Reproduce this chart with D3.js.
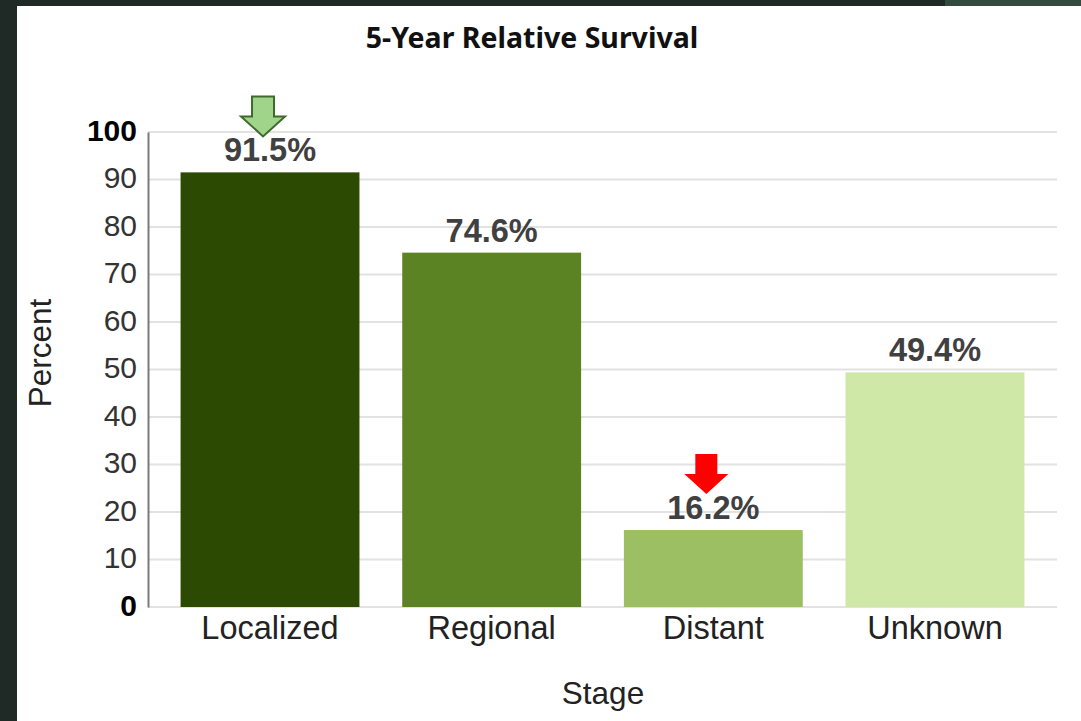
<!DOCTYPE html>
<html>
<head>
<meta charset="utf-8">
<script src="https://cdn.jsdelivr.net/npm/d3@7"></script>
<style>
  html, body { margin: 0; padding: 0; background: #ffffff; }
  svg { display: block; }
</style>
</head>
<body>
<svg id="chart" width="1081" height="721"></svg>
<script>
// ---- data ----
const stages = ["Localized", "Regional", "Distant", "Unknown"];
const survival = [91.5, 74.6, 16.2, 49.4];
const barColors = ["#2d4a03", "#5c8323", "#9cbf64", "#cfe8a8"];
const yTicks = [0, 10, 20, 30, 40, 50, 60, 70, 80, 90, 100];
const arrowStages = ["Localized", "Distant"];
const arrowFills = ["#a0d48a", "#ff0000"];
const arrowStrokes = ["#3e6b2c", "none"];
const titleText = "5-Year Relative Survival";
const xTitle = "Stage";
const yTitle = "Percent";

const W = 1081, H = 721;
const svg = d3.select("#chart");

// frame (dark screenshot border)
svg.append("rect").attr("x", 0).attr("y", 0).attr("width", W).attr("height", H).attr("fill", "#1f2a27");
svg.append("rect").attr("x", 945).attr("y", 0).attr("width", W - 945).attr("height", 6).attr("fill", "#334a41");
svg.append("rect").attr("x", 17).attr("y", 6).attr("width", W - 17).attr("height", H - 6).attr("fill", "#ffffff");

const plot = { left: 148, right: 1057, top: 132, bottom: 607 };

const x = d3.scaleBand().domain(stages).range([plot.left, plot.right])
  .paddingInner(0.193).paddingOuter(0.147);
const y = d3.scaleLinear().domain([0, 100]).range([plot.bottom, plot.top]);

// gridlines
svg.append("g").selectAll("line").data(yTicks).join("line")
  .attr("x1", plot.left).attr("x2", plot.right)
  .attr("y1", d => y(d)).attr("y2", d => y(d))
  .attr("stroke", "#e2e2e2").attr("stroke-width", 2);

// y axis
const yAxis = svg.append("g").attr("transform", `translate(${plot.left},0)`)
  .call(d3.axisLeft(y).tickValues(yTicks).tickSize(0).tickPadding(11));
yAxis.select(".domain").attr("stroke", "#7a7a7a").attr("stroke-width", 2);
yAxis.selectAll("text")
  .attr("font-family", "Liberation Sans, Arial, sans-serif")
  .attr("font-size", 30)
  .attr("fill", d => (d === 0 || d === 100) ? "#000000" : "#333333")
  .attr("font-weight", d => (d === 0 || d === 100) ? "bold" : "normal")
  .attr("dy", "0.28em");

// bars
svg.append("g").selectAll("rect").data(stages).join("rect")
  .attr("x", d => x(d))
  .attr("width", x.bandwidth())
  .attr("y", (d, i) => y(survival[i]))
  .attr("height", (d, i) => y(0) - y(survival[i]))
  .attr("fill", (d, i) => barColors[i]);

// value labels
svg.append("g").selectAll("text").data(stages).join("text")
  .attr("x", d => x(d) + x.bandwidth() / 2)
  .attr("y", (d, i) => y(survival[i]) - 11)
  .attr("text-anchor", "middle")
  .attr("font-family", "Liberation Sans, Arial, sans-serif")
  .attr("font-weight", "bold")
  .attr("font-size", 32.5)
  .attr("fill", "#404040")
  .text((d, i) => survival[i].toFixed(1) + "%");

// x axis labels
const xAxis = svg.append("g").attr("transform", `translate(0,${plot.bottom})`)
  .call(d3.axisBottom(x).tickSize(0).tickPadding(9));
xAxis.select(".domain").remove();
xAxis.selectAll("text")
  .attr("font-family", "Liberation Sans, Arial, sans-serif")
  .attr("font-size", 32.5)
  .attr("fill", "#222222")
  .attr("dy", "0.71em");

// axis titles
svg.append("text")
  .attr("x", 603).attr("y", 704)
  .attr("text-anchor", "middle")
  .attr("font-family", "Liberation Sans, Arial, sans-serif")
  .attr("font-size", 31.5)
  .attr("fill", "#222222")
  .text(xTitle);

svg.append("text")
  .attr("transform", "translate(51,353) rotate(-90)")
  .attr("text-anchor", "middle")
  .attr("font-family", "Liberation Sans, Arial, sans-serif")
  .attr("font-size", 31.5)
  .attr("fill", "#222222")
  .text(yTitle);

// title
svg.append("text")
  .attr("x", 532).attr("y", 48)
  .attr("text-anchor", "middle")
  .attr("font-family", "Noto Sans, Open Sans, sans-serif")
  .attr("font-weight", "bold")
  .attr("font-size", 28.5)
  .attr("fill", "#111111")
  .text(titleText);

// arrows
function arrowPath(cx, tip) {
  const sw = 11, hw = 22, shaftTop = tip - 40, headTop = tip - 20;
  return `M${cx - sw},${shaftTop} L${cx + sw},${shaftTop} L${cx + sw},${headTop} L${cx + hw},${headTop} L${cx},${tip} L${cx - hw},${headTop} L${cx - sw},${headTop} Z`;
}
svg.append("g").selectAll("path").data(arrowStages).join("path")
  .attr("d", d => {
    const i = stages.indexOf(d);
    const cx = x(d) + x.bandwidth() / 2 - 7;
    const tip = y(survival[i]) - 36;
    return arrowPath(cx, tip);
  })
  .attr("fill", (d, i) => arrowFills[i])
  .attr("stroke", (d, i) => arrowStrokes[i])
  .attr("stroke-width", 2)
  .attr("stroke-linejoin", "miter");
</script>
</body>
</html>
